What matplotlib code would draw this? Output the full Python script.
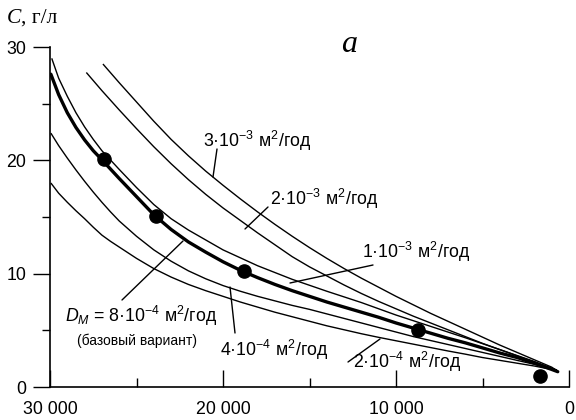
import matplotlib
matplotlib.use("Agg")
import matplotlib.pyplot as plt
from matplotlib.ticker import FixedLocator

plt.rcParams['font.family'] = ['Liberation Sans', 'DejaVu Sans']
plt.rcParams['mathtext.fontset'] = 'custom'
plt.rcParams['mathtext.rm'] = 'Liberation Sans'
plt.rcParams['mathtext.it'] = 'Liberation Sans:italic'
plt.rcParams['mathtext.bf'] = 'Liberation Sans:bold'

# ---- data ----
x_3e3 = [26940, 26000, 25000, 24000, 23000, 22000, 21000, 20000, 19000, 18000, 17000, 16000, 15000,
         14000, 13000, 12000, 11000, 10000, 9000, 8000, 7000, 6000, 5000, 4000, 3000, 2000, 1000, 700]
c_3e3 = [28.5, 26.85, 25.15, 23.45, 21.85, 20.4, 19.05, 17.8, 16.6, 15.45, 14.35, 13.3, 12.3,
         11.35, 10.45, 9.6, 8.8, 8.0, 7.25, 6.5, 5.8, 5.1, 4.4, 3.7, 3.05, 2.4, 1.75, 1.45]

x_2e3 = [27900, 27000, 26000, 25000, 24000, 23000, 22000, 21000, 20000, 19000, 18000, 17000, 16000,
         15000, 14000, 13000, 12000, 11000, 10000, 9000, 8000, 7000, 6000, 5000, 4000, 3000, 2000, 1000, 700]
c_2e3 = [27.75, 26.15, 24.45, 22.8, 21.2, 19.7, 18.3, 17.0, 15.8, 14.7, 13.6, 12.55, 11.5,
         10.6, 9.8, 9.0, 8.25, 7.55, 6.9, 6.25, 5.65, 5.05, 4.45, 3.85, 3.3, 2.75, 2.2, 1.65, 1.5]

x_1e3 = [29900, 29500, 29000, 28500, 28000, 27500, 27000, 26000, 25000, 24000, 23000, 22000, 20000,
         18000, 16000, 14000, 12000, 10000, 8000, 6000, 4000, 2000, 700]
c_1e3 = [29.0, 27.25, 25.65, 24.2, 22.95, 21.85, 20.85, 19.2, 17.6, 16.1, 14.85, 13.85, 12.1,
         10.7, 9.5, 8.45, 7.45, 6.35, 5.35, 4.35, 3.3, 2.25, 1.45]

x_8e4 = [29950, 29500, 29000, 28500, 28000, 27500, 27000, 26000, 25000, 24000, 23000, 22000, 21000,
         20000, 19000, 18000, 17000, 16000, 15000, 14000, 13000, 12000, 11000, 10000, 9000, 8000,
         7000, 6000, 5000, 4000, 3000, 2000, 1000, 650]
c_8e4 = [27.6, 25.8, 24.2, 22.9, 21.8, 20.85, 20.05, 18.4, 16.8, 15.2, 13.9, 12.8, 11.9,
         11.05, 10.3, 9.65, 9.05, 8.5, 8.0, 7.5, 7.05, 6.6, 6.15, 5.65, 5.2, 4.75,
         4.3, 3.9, 3.45, 3.0, 2.6, 2.1, 1.55, 1.35]

x_4e4 = [29950, 29500, 29000, 28500, 28000, 27500, 27000, 26500, 26000, 25000, 24000, 23000, 22000,
         21000, 20000, 19000, 18000, 17000, 16000, 15000, 14000, 13000, 12000, 11000, 10000, 9000,
         8000, 7000, 6000, 5000, 4000, 3000, 2000, 1000, 700]
c_4e4 = [22.4, 21.3, 20.2, 19.15, 18.15, 17.2, 16.3, 15.45, 14.65, 13.3, 12.1, 11.1, 10.25,
         9.55, 8.95, 8.45, 8.0, 7.6, 7.2, 6.85, 6.45, 6.05, 5.65, 5.25, 4.85, 4.45,
         4.1, 3.75, 3.4, 3.05, 2.7, 2.35, 2.0, 1.6, 1.45]

x_2e4 = [29950, 29500, 29000, 28500, 28000, 27500, 27000, 26500, 26000, 25000, 24000, 23000, 22000,
         21000, 20000, 19000, 18000, 17000, 16000, 15000, 14000, 13000, 12000, 11000, 10000, 9000,
         8000, 7000, 6000, 5000, 4000, 3000, 2000, 1000, 700]
c_2e4 = [18.0, 17.1, 16.3, 15.55, 14.85, 14.1, 13.4, 12.85, 12.35, 11.35, 10.45, 9.7, 9.05,
         8.5, 8.0, 7.5, 7.05, 6.6, 6.2, 5.8, 5.4, 5.05, 4.7, 4.38, 4.08, 3.78,
         3.48, 3.18, 2.9, 2.6, 2.35, 2.1, 1.85, 1.55, 1.45]

obs_x = [26900, 23900, 18800, 8700, 1700]
obs_c = [20.1, 15.1, 10.2, 5.0, 1.0]

x_major = [30000, 20000, 10000, 0]
x_major_labels = ["30 000", "20 000", "10 000", "0"]
x_minor = [25000, 15000, 5000]
y_major = [0, 10, 20, 30]
y_minor = [5, 15, 25]

# ---- figure ----
fig = plt.figure(figsize=(5.76, 4.2), dpi=100)
ax = fig.add_axes([50/576, 33/420, 519/576, 340/420])

thin = dict(color='black', lw=1.0, solid_capstyle='butt', solid_joinstyle='round')
ax.plot(x_3e3, c_3e3, **thin)
ax.plot(x_2e3, c_2e3, **thin)
ax.plot(x_1e3, c_1e3, **thin)
ax.plot(x_4e4, c_4e4, **thin)
ax.plot(x_2e4, c_2e4, **thin)
ax.plot(x_8e4, c_8e4, color='black', lw=2.4, solid_capstyle='round', solid_joinstyle='round')
ax.plot(obs_x, obs_c, 'o', color='black', ms=9.5, zorder=5)

ax.set_xlim(30000, 0)
ax.set_ylim(0, 30)

for s in ['top', 'right']:
    ax.spines[s].set_visible(False)
for s in ['left', 'bottom']:
    ax.spines[s].set_linewidth(1.2)

ax.xaxis.set_major_locator(FixedLocator(x_major))
ax.set_xticklabels(x_major_labels)
ax.xaxis.set_minor_locator(FixedLocator(x_minor))
ax.yaxis.set_major_locator(FixedLocator(y_major))
ax.yaxis.set_minor_locator(FixedLocator(y_minor))

ax.tick_params(axis='x', which='major', direction='in', length=12, width=1.0, pad=10, labelsize=12.8)
ax.tick_params(axis='x', which='minor', direction='in', length=6.5, width=1.0)
ax.tick_params(axis='y', which='major', direction='out', length=12, width=1.0, pad=5, labelsize=12.8)
ax.tick_params(axis='y', which='minor', direction='out', length=5.5, width=1.0)

# axis title and panel letter
fig.text(7/576, 1 - 23/420, "C", family='Liberation Serif', style='italic', fontsize=15.5, va='baseline')
fig.text(21/576, 1 - 23/420, ", г/л", family='Liberation Serif', fontsize=15.5, va='baseline')
fig.text(341/576, 1 - 52/420, "а", family='Liberation Serif', style='italic', fontsize=23, va='baseline')

# labels with leader lines (pixel positions converted to data)
def px2d(px, py):
    return (30000 - (px - 50) * 30000 / 519, (387 - py) * 30 / 340)

def leader(p0, p1):
    a = px2d(*p0)
    b = px2d(*p1)
    ax.annotate('', xy=b, xytext=a, arrowprops=dict(arrowstyle='-', color='black', lw=1.0,
                shrinkA=0, shrinkB=0))

fs = 12.8
x, y = px2d(203, 141)
ax.text(x, y, r"3·10$^{-3}$ м$^{2}$/год", fontsize=fs, va='center', ha='left')
leader((217, 149), (213, 177))

x, y = px2d(270, 199)
ax.text(x, y, r"2·10$^{-3}$ м$^{2}$/год", fontsize=fs, va='center', ha='left')
leader((268, 207), (245, 229))

x, y = px2d(362, 252)
ax.text(x, y, r"1·10$^{-3}$ м$^{2}$/год", fontsize=fs, va='center', ha='left')
leader((373, 265), (290, 283))

x, y = px2d(65, 316)
ax.text(x, y, r"$D_M$ = 8·10$^{-4}$ м$^{2}$/год", fontsize=fs, va='center', ha='left')
x, y = px2d(77, 341)
ax.text(x, y, "(базовый вариант)", fontsize=10, va='center', ha='left')
leader((122, 300), (183, 241))

x, y = px2d(220, 350)
ax.text(x, y, r"4·10$^{-4}$ м$^{2}$/год", fontsize=fs, va='center', ha='left')
leader((235, 333), (230, 287))

x, y = px2d(353, 362)
ax.text(x, y, r"2·10$^{-4}$ м$^{2}$/год", fontsize=fs, va='center', ha='left')
leader((348, 362), (380, 339))

fig.savefig("out.png", dpi=100)
